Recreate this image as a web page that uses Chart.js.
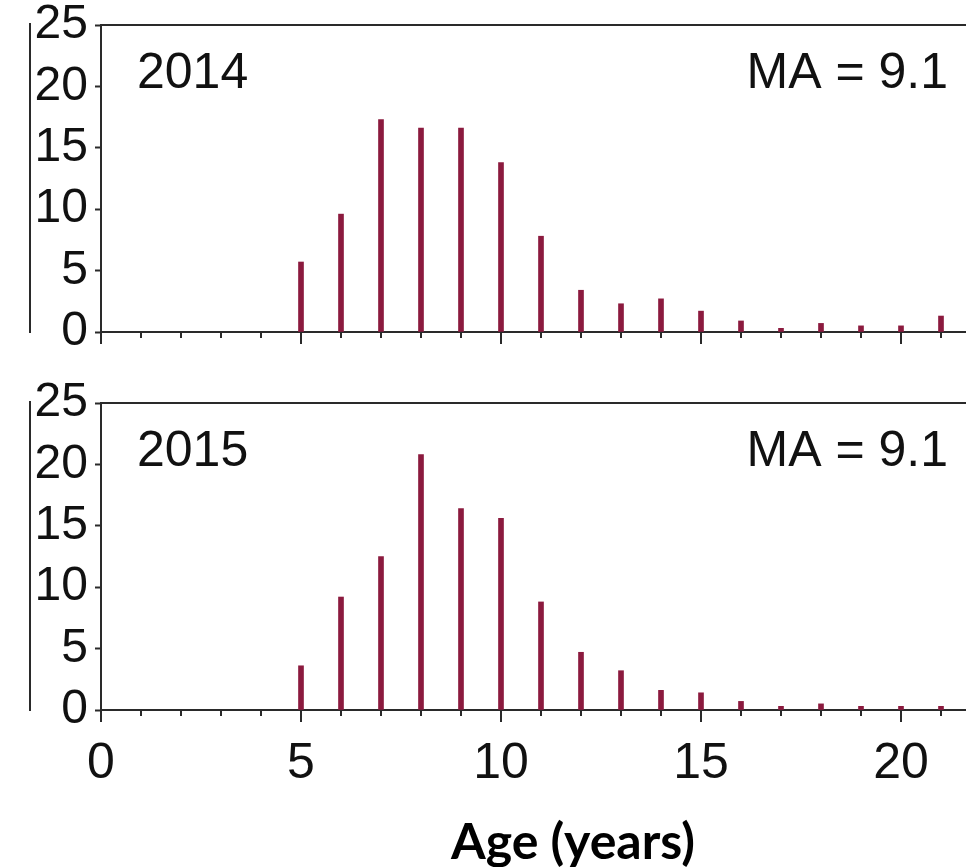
<!DOCTYPE html>
<html>
<head>
<meta charset="utf-8">
<script src="https://cdn.jsdelivr.net/npm/chart.js@4"></script>
<style>
  html, body { margin: 0; padding: 0; background: #fff; overflow: hidden; }
  #container { position: relative; width: 966px; height: 867px; overflow: hidden; }
  #grafico_2014 { position: absolute; left: 0; top: 0; }
  #grafico_2015 { position: absolute; left: 0; top: 380px; }
</style>
</head>
<body>
<div id="container">
  <canvas id="grafico_2014" width="1060" height="360"></canvas>
  <canvas id="grafico_2015" width="1060" height="500"></canvas>
</div>
<script>
const idades = [5, 6, 7, 8, 9, 10, 11, 12, 13, 14, 15, 16, 17, 18, 19, 20, 21];
const freq2014 = [5.7, 9.6, 17.3, 16.6, 16.6, 13.8, 7.8, 3.4, 2.3, 2.7, 1.7, 0.9, 0.3, 0.7, 0.5, 0.5, 1.3];
const freq2015 = [3.6, 9.2, 12.5, 20.8, 16.4, 15.6, 8.8, 4.7, 3.2, 1.6, 1.4, 0.7, 0.3, 0.5, 0.3, 0.3, 0.3];
const ticksY = [0, 5, 10, 15, 20, 25];
const ticksX = [0, 5, 10, 15, 20];
const anos = ['2014', '2015'];
const mediaIdade = ['MA = 9.1', 'MA = 9.1'];

const corBarra = '#8b1a3e';
const corEixo = '#2a2a2a';
const fonteNum = "'Liberation Sans', Arial, sans-serif";

// moldura de cima, ticks do eixo x e textos dentro do painel
const extras = {
  id: 'extras',
  afterDraw(chart, args, opts) {
    const { ctx, chartArea: a, scales } = chart;
    const x = scales.x;
    ctx.save();
    ctx.strokeStyle = corEixo;
    ctx.lineWidth = 2;
    ctx.beginPath();
    ctx.moveTo(a.left, a.top);
    ctx.lineTo(a.right, a.top);
    // barra vertical cortada na esquerda
    ctx.moveTo(a.left - 71, a.top - 2);
    ctx.lineTo(a.left - 71, a.bottom + 1);
    for (let v = 0; v <= Math.floor(x.max); v++) {
      const px = Math.round(x.getPixelForValue(v));
      ctx.moveTo(px, a.bottom);
      ctx.lineTo(px, a.bottom + (v % 5 === 0 ? 12 : 6));
    }
    ctx.stroke();

    ctx.fillStyle = '#111';
    ctx.font = '50px ' + fonteNum;
    ctx.textBaseline = 'alphabetic';
    ctx.textAlign = 'left';
    ctx.fillText(opts.ano, a.left + 36, a.top + 63);
    ctx.textAlign = 'right';
    ctx.fillText(opts.ma, a.left + 847, a.top + 63);
    ctx.restore();
  }
};

function criaGrafico(id, valores, idx, comEixoX) {
  const config = {
    type: 'bar',
    data: {
      datasets: [{
        data: idades.map((idade, i) => ({ x: idade, y: valores[i] })),
        backgroundColor: corBarra,
        barThickness: 5,
      }]
    },
    plugins: [extras],
    options: {
      responsive: false,
      animation: false,
      devicePixelRatio: 1,
      layout: { padding: { top: comEixoX ? 23 : 25, right: 15, left: 0, bottom: 0 } },
      plugins: {
        legend: { display: false },
        tooltip: { enabled: false },
        extras: { ano: anos[idx], ma: mediaIdade[idx] },
      },
      scales: {
        x: {
          type: 'linear',
          min: 0,
          max: 23.6,
          offset: false,
          grid: { display: false },
          border: { display: true, color: corEixo, width: 2 },
          afterBuildTicks: (s) => { s.ticks = ticksX.map(v => ({ value: v })); },
          ticks: {
            display: comEixoX,
            autoSkip: false,
            padding: 16,
            color: '#111',
            font: { family: fonteNum, size: 50 },
            maxRotation: 0,
          },
          title: {
            display: comEixoX,
            text: 'Age (years)',
            color: '#000',
            font: { family: 'Lato, sans-serif', size: 50, weight: 'bold', lineHeight: 1.2 },
            padding: { top: 0, bottom: 7 },
          },
          afterFit: (s) => { s.height = comEixoX ? 170 : 28; },
        },
        y: {
          min: 0,
          max: 25,
          afterBuildTicks: (s) => { s.ticks = ticksY.map(v => ({ value: v })); },
          grid: {
            drawOnChartArea: false,
            drawTicks: true,
            tickLength: 6,
            tickWidth: 2,
            tickColor: corEixo,
          },
          border: { display: true, color: corEixo, width: 2 },
          ticks: {
            autoSkip: false,
            padding: 7,
            color: '#111',
            font: { family: fonteNum, size: 48, lineHeight: 0.5 },
          },
          afterFit: (s) => { s.width = 101; },
        }
      }
    }
  };
  return new Chart(document.getElementById(id), config);
}

criaGrafico('grafico_2014', freq2014, 0, false);
criaGrafico('grafico_2015', freq2015, 1, true);
</script>
</body>
</html>
